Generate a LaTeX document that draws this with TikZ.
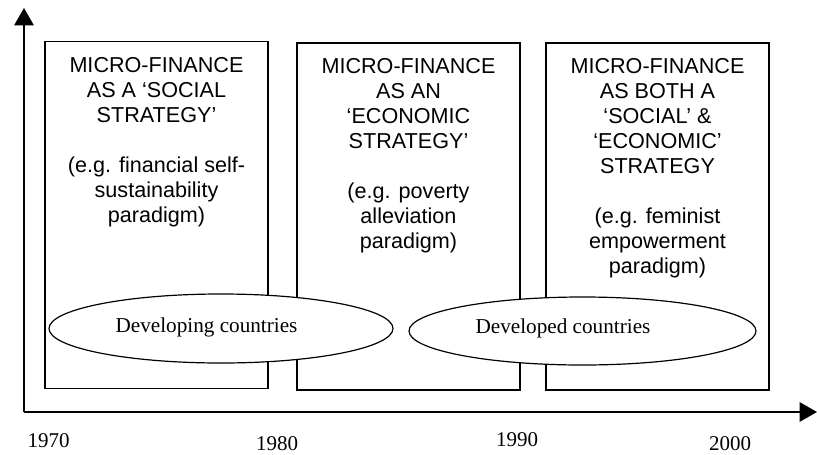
\documentclass[tikz,border=0pt]{standalone}
\usepackage{fontspec}
\setmainfont{Liberation Serif}
\newfontfamily\arialfont{Liberation Sans}
\usepackage{tikz}
\usetikzlibrary{positioning}
\usetikzlibrary{shapes.geometric}
\usetikzlibrary{arrows.meta}
\usetikzlibrary{calc}

\begin{document}
\begin{tikzpicture}[x=0.75pt, y=-0.75pt,
        period/.style={draw, line width=1.1pt, rectangle, inner sep=0pt, minimum width=223*0.75pt, minimum height=347*0.75pt},
        periodtext/.style={anchor=north, inner sep=0pt, align=center, font=\arialfont\fontsize{16.2pt}{18.75pt}\selectfont},
        region/.style={draw, line width=0.9pt, fill=white, ellipse, inner sep=0pt},
        regiontext/.style={inner sep=0pt, font=\fontsize{15.9pt}{18.75pt}\selectfont},
        year/.style={inner sep=0pt, font=\fontsize{15.75pt}{18.75pt}\selectfont},
        axis/.style={line width=1.5pt, -{Triangle[length=13pt, width=14.5pt]}}]
        \def\gap{18.75pt}
        \def\down{-12pt}
        \useasboundingbox (0,0) rectangle (817,454);

        \coordinate (O) at (24,412);
        \coordinate (ytop) at (24,8);
        \coordinate (xend) at (817,412);
        \draw [axis] (O) -- (ytop);
        \draw [axis] (O) -- (xend);

        \node [period] (social) at (156.5,215) {};
        \node [period] (economic) at (408.5,216.5) {};
        \node [period] (both) at (657.5,216.5) {};

        \node [periodtext] (socialtxt) at ([yshift=\down]social.north) {MICRO-FINANCE\\AS A ‘SOCIAL\\STRATEGY’\\[\gap](e.g. financial self-\\sustainability\\paradigm)};
        \node [periodtext] (economictxt) at ([yshift=\down]economic.north) {MICRO-FINANCE\\AS AN\\‘ECONOMIC\\STRATEGY’\\[\gap](e.g. poverty\\alleviation\\paradigm)};
        \node [periodtext] (bothtxt) at ([yshift=\down]both.north) {MICRO-FINANCE\\AS BOTH A\\‘SOCIAL’ \&\\‘ECONOMIC’\\STRATEGY\\[\gap](e.g. feminist\\empowerment\\paradigm)};

        \node [region, minimum width=344*0.75pt, minimum height=69*0.75pt] (developing) at (221,328.5) {};
        \node [region, minimum width=347*0.75pt, minimum height=68*0.75pt] (developed) at (582.5,331) {};
        \node [regiontext] (developingtxt) at (206.5,327) {Developing countries};
        \node [regiontext] (developedtxt) at (563,328) {Developed countries};

        \node [year] (y1970) at (48.5,441) {1970};
        \node [year] (y1980) at (277,443.5) {1980};
        \node [year] (y1990) at (517,440) {1990};
        \node [year] (y2000) at (730,444) {2000};

    \end{tikzpicture}
\end{document}
